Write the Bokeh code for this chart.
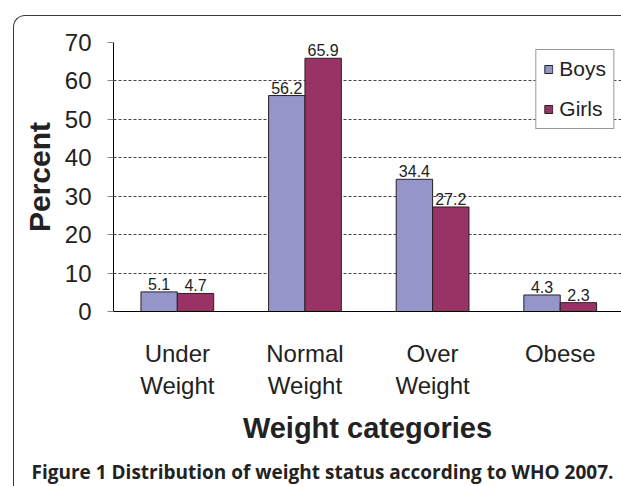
from bokeh.plotting import figure
from bokeh.models import (ColumnDataSource, FixedTicker, Legend, LegendItem,
                          Title, Range1d, InlineStyleSheet)
from bokeh.core.properties import value
from bokeh.embed import file_html
from bokeh.resources import INLINE

# ---- data ----
categories = ["Under\nWeight", "Normal\nWeight", "Over\nWeight", "Obese"]
boys = [5.1, 56.2, 34.4, 4.3]
girls = [4.7, 65.9, 27.2, 2.3]
series_names = ["Boys", "Girls"]
y_ticks = [0, 10, 20, 30, 40, 50, 60, 70]
x_title = "Weight categories"
y_title = "Percent"
caption = "Figure 1 Distribution of weight status according to WHO 2007."

BOYS_COLOR = "#9595C9"
GIRLS_COLOR = "#993366"
TEXT = "#222222"
ARIAL = "Liberation Sans"

pos = list(range(1, len(categories) + 1))
bw = 0.285
src = ColumnDataSource(dict(
    x_b=[p - bw / 2 for p in pos],
    x_g=[p + bw / 2 for p in pos],
    boys=boys, girls=girls,
    lb=[f"{v:.1f}" for v in boys],
    lg=[f"{v:.1f}" for v in girls],
))

border_css = InlineStyleSheet(css="""
:host::after {
  content: "";
  position: absolute;
  left: 13px; top: 15px; right: 0; bottom: 0;
  border-left: 1.6px solid #3a3a3a;
  border-top: 1.6px solid #3a3a3a;
  border-top-left-radius: 12px;
  pointer-events: none;
  z-index: 100;
}
""")

p = figure(width=621, height=486, output_backend="svg", toolbar_location=None,
           x_range=Range1d(0.5, 4.48), y_range=Range1d(0, 70),
           min_border_left=113, min_border_right=0, min_border_top=42,
           min_border_bottom=174, stylesheets=[border_css])
p.outline_line_color = None
p.background_fill_color = "white"
p.border_fill_color = "white"

# grid
p.xgrid.visible = False
p.ygrid.ticker = FixedTicker(ticks=y_ticks)
p.ygrid.grid_line_color = "#444444"
p.ygrid.grid_line_dash = "3 2"
p.ygrid.grid_line_width = 1

rb = p.vbar(x="x_b", top="boys", width=bw, source=src, fill_color=BOYS_COLOR,
            line_color="#222222", line_width=1)
rg = p.vbar(x="x_g", top="girls", width=bw, source=src, fill_color=GIRLS_COLOR,
            line_color="#222222", line_width=1)

p.text(x="x_b", y="boys", text="lb", source=src, text_align="center",
       text_baseline="alphabetic", y_offset=-8, text_font=value(ARIAL),
       text_font_size="16px", text_color=TEXT)
p.text(x="x_g", y="girls", text="lg", source=src, text_align="center",
       text_baseline="alphabetic", y_offset=-8, text_font=value(ARIAL),
       text_font_size="16px", text_color=TEXT)

# y axis
ya = p.yaxis[0]
ya.ticker = FixedTicker(ticks=y_ticks)
ya.axis_line_color = "black"
ya.axis_line_width = 1
ya.major_tick_out = 6
ya.major_tick_in = 0
ya.major_tick_line_color = "#888888"
ya.minor_tick_line_color = None
ya.major_label_text_font = ARIAL
ya.major_label_text_font_size = "24px"
ya.major_label_text_color = TEXT
ya.major_label_standoff = 16
ya.axis_label = y_title
ya.axis_label_text_font = ARIAL
ya.axis_label_text_font_style = "bold"
ya.axis_label_text_font_size = "30px"
ya.axis_label_text_color = TEXT
ya.axis_label_standoff = 6

# x axis
xa = p.xaxis[0]
xa.ticker = FixedTicker(ticks=pos)
xa.major_label_overrides = {p_: c for p_, c in zip(pos, categories)}
xa.axis_line_color = "black"
xa.major_tick_out = 0
xa.major_tick_in = 0
xa.minor_tick_line_color = None
xa.major_label_text_font = ARIAL
xa.major_label_text_font_size = "24px"
xa.major_label_text_color = TEXT
xa.major_label_standoff = 28
xa.axis_label = x_title
xa.axis_label_text_font = ARIAL
xa.axis_label_text_font_style = "bold"
xa.axis_label_text_font_size = "29px"
xa.axis_label_text_color = TEXT
xa.axis_label_standoff = 10

# spacer between axis title and caption
p.add_layout(Title(text=" ", text_font_size="1px", standoff=5), "below")
# caption
p.add_layout(Title(text=caption, align="left", offset=-82, standoff=4,
                   text_font="Open Sans", text_font_style="bold",
                   text_font_size="19px", text_color=TEXT), "below")

# legend
legend = Legend(items=[LegendItem(label=series_names[0], renderers=[rb]),
                       LegendItem(label=series_names[1], renderers=[rg])],
                location="top_right", margin=7, padding=7, spacing=16,
                glyph_width=10, glyph_height=10, label_standoff=6,
                label_text_font=ARIAL, label_text_font_size="21px",
                label_text_color=TEXT, border_line_color="#333333",
                border_line_width=1, background_fill_alpha=1.0)
p.add_layout(legend, "center")

open("out.html", "w").write(file_html(p, INLINE))
